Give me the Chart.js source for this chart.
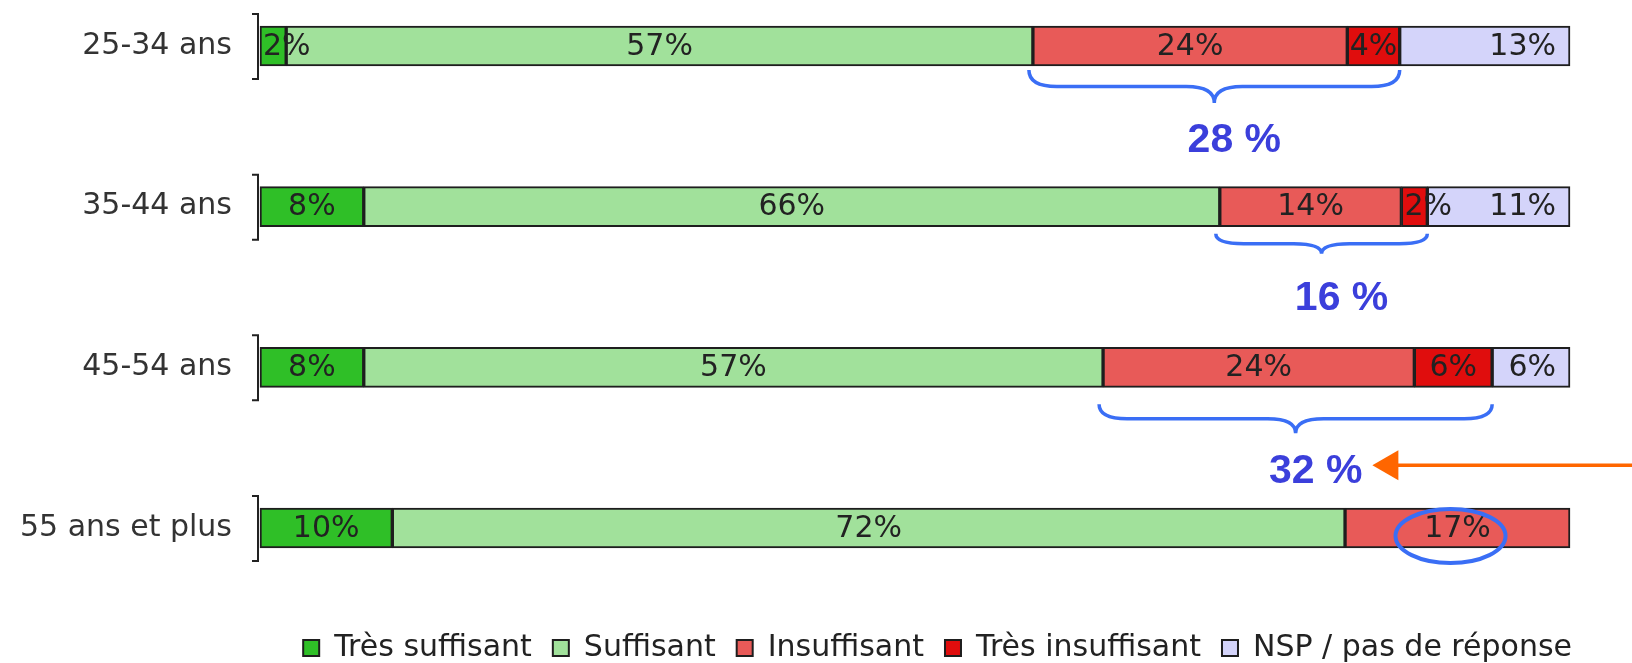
<!DOCTYPE html>
<html>
<head>
<meta charset="utf-8">
<title>Moyens par tranche d'âge</title>
<script src="https://cdn.jsdelivr.net/npm/chart.js@4.4.0/dist/chart.umd.min.js"></script>
<style>
  html, body { margin: 0; padding: 0; background: #fff; }
  #wrap { width: 1632px; height: 663px; }
</style>
</head>
<body>
<div id="wrap"><canvas id="grafica" width="1632" height="663"></canvas></div>
<script>
const tranches = ['25-34 ans', '35-44 ans', '45-54 ans', '55 ans et plus'];
const tresSuffisant = [2, 8, 8, 10];
const suffisant = [57, 66, 57, 72];
const insuffisant = [24, 14, 24, 17];
const tresInsuffisant = [4, 2, 6, null];
const nsp = [13, 11, 6, null];
// totaux écrits sous les accolades
const totauxAccolade = ['28 %', '16 %', '32 %', null];

const series = [tresSuffisant, suffisant, insuffisant, tresInsuffisant, nsp];
const noms = ['Très suffisant', 'Suffisant', 'Insuffisant', 'Très insuffisant', 'NSP / pas de réponse'];
const couleurs = ['#2fbf27', '#a1e19b', '#e85a58', '#e00d0d', '#d4d4fa'];

// chaque barre est ramenée à 100 % (les arrondis donnent 99 ou 101)
const totaux = tranches.map((t, j) => series.reduce((s, arr) => s + (arr[j] || 0), 0));
const parts = series.map(arr => arr.map((v, j) => v == null ? null : v / totaux[j] * 100));

const FONT = '"DejaVu Sans", Verdana, sans-serif';
const BLEU = '#3a6ef5';

// petit crochet de l'axe vertical autour de chaque barre
const crochets = {
  id: 'crochets',
  beforeDatasetsDraw(chart) {
    const { ctx, chartArea, scales: { y } } = chart;
    const x = chartArea.left - 2;
    ctx.save();
    ctx.strokeStyle = '#222';
    ctx.lineWidth = 2;
    tranches.forEach((t, j) => {
      const yc = y.getPixelForValue(j);
      ctx.beginPath();
      ctx.moveTo(x - 6, yc - 32);
      ctx.lineTo(x, yc - 32);
      ctx.lineTo(x, yc + 33);
      ctx.lineTo(x - 6, yc + 33);
      ctx.stroke();
    });
    ctx.restore();
  }
};

// valeurs écrites dans les segments
const etiquettes = {
  id: 'etiquettes',
  afterDatasetsDraw(chart) {
    const ctx = chart.ctx;
    ctx.save();
    ctx.font = '30px ' + FONT;
    ctx.fillStyle = '#222';
    ctx.textBaseline = 'middle';
    series.forEach((arr, i) => {
      chart.getDatasetMeta(i).data.forEach((bar, j) => {
        const v = arr[j];
        if (v == null) return;
        const txt = v + '%';
        const x0 = Math.min(bar.x, bar.base), x1 = Math.max(bar.x, bar.base);
        const w = ctx.measureText(txt).width;
        let x;
        if (w > x1 - x0 - 2) { x = x0 + 3; ctx.textAlign = 'left'; }
        else if (i === 4) { x = x1 - 14; ctx.textAlign = 'right'; }
        else { x = (x0 + x1) / 2; ctx.textAlign = 'center'; }
        ctx.fillText(txt, x, bar.y + 1);
      });
    });
    ctx.restore();
  }
};

// la légende est calée un peu plus à droite que la zone des barres
const decaleLegende = {
  id: 'decaleLegende',
  afterLayout(chart) {
    chart.legend.left += 23;
    chart.legend.right += 23;
  }
};

// accolades, totaux, flèche et cercle ajoutés à la main sur la capture
const annotations = {
  id: 'annotations',
  afterDraw(chart) {
    const { ctx, scales: { x, y } } = chart;
    const ecart = [4, 7, 17];
    const profondeur = [33, 20, 29];
    const decalTexte = [38, 45, 38];
    ctx.save();
    let fin32 = null;
    tranches.forEach((t, j) => {
      if (!totauxAccolade[j]) return;
      const avant = tresSuffisant[j] + suffisant[j];
      const apres = avant + insuffisant[j] + (tresInsuffisant[j] || 0);
      const xa = x.getPixelForValue(avant / totaux[j] * 100) - 4;
      const xb = x.getPixelForValue(apres / totaux[j] * 100);
      const xm = (xa + xb) / 2;
      const y0 = y.getPixelForValue(j) + 20 + ecart[j];
      const h = profondeur[j];
      const q = 28;
      ctx.strokeStyle = BLEU;
      ctx.lineWidth = 3.5;
      ctx.beginPath();
      ctx.moveTo(xa, y0);
      ctx.quadraticCurveTo(xa, y0 + h / 2, xa + q, y0 + h / 2);
      ctx.lineTo(xm - q, y0 + h / 2);
      ctx.quadraticCurveTo(xm, y0 + h / 2, xm, y0 + h);
      ctx.quadraticCurveTo(xm, y0 + h / 2, xm + q, y0 + h / 2);
      ctx.lineTo(xb - q, y0 + h / 2);
      ctx.quadraticCurveTo(xb, y0 + h / 2, xb, y0);
      ctx.stroke();

      ctx.font = 'bold 41px "Liberation Sans", Arial, sans-serif';
      ctx.fillStyle = '#3b3fdb';
      ctx.textAlign = 'center';
      ctx.textBaseline = 'middle';
      const tx = xm + 20, ty = y0 + h + decalTexte[j];
      ctx.fillText(totauxAccolade[j], tx, ty);
      if (j === 2) fin32 = { x: tx + ctx.measureText(totauxAccolade[j]).width / 2 + 10, y: ty - 6 };
    });

    // flèche orange venant du bord droit
    if (fin32) {
      ctx.strokeStyle = '#ff6600';
      ctx.fillStyle = '#ff6600';
      ctx.lineWidth = 3.5;
      ctx.beginPath();
      ctx.moveTo(chart.width, fin32.y);
      ctx.lineTo(fin32.x + 20, fin32.y);
      ctx.stroke();
      ctx.beginPath();
      ctx.moveTo(fin32.x, fin32.y);
      ctx.lineTo(fin32.x + 26, fin32.y - 15);
      ctx.lineTo(fin32.x + 26, fin32.y + 15);
      ctx.closePath();
      ctx.fill();
    }

    // ellipse autour du 17 % des 55 ans et plus
    const bar = chart.getDatasetMeta(2).data[3];
    const cx = (bar.x + bar.base) / 2 - 7;
    ctx.strokeStyle = BLEU;
    ctx.lineWidth = 4;
    ctx.beginPath();
    ctx.ellipse(cx, bar.y + 8, 55, 27, 0, 0, Math.PI * 2);
    ctx.stroke();
    ctx.restore();
  }
};

new Chart(document.getElementById('grafica'), {
  type: 'bar',
  data: {
    labels: tranches,
    datasets: series.map((arr, i) => ({
      label: noms[i],
      data: parts[i],
      backgroundColor: couleurs[i],
      borderColor: '#1e1e1e',
      borderWidth: 2,
      borderSkipped: false,
      barThickness: 40,
      clip: false
    }))
  },
  options: {
    indexAxis: 'y',
    responsive: false,
    animation: false,
    events: [],
    layout: { padding: { top: 42, right: 62, bottom: -10, left: 0 } },
    scales: {
      x: {
        stacked: true, min: 0, max: 100,
        grid: { display: false, drawTicks: false },
        border: { display: false },
        ticks: { display: false },
        afterFit(s) { s.height = 84; }
      },
      y: {
        stacked: true, offset: false,
        grid: { display: false, drawTicks: false },
        border: { display: false },
        ticks: { color: '#333', padding: 28, font: { family: FONT, size: 30 } },
        afterFit(s) { s.width = 260; }
      }
    },
    plugins: {
      tooltip: { enabled: false },
      legend: {
        position: 'bottom',
        align: 'end',
        labels: {
          color: '#222',
          boxWidth: 16,
          boxHeight: 16,
          padding: 21,
          font: { family: FONT, size: 30 }
        }
      }
    }
  },
  plugins: [crochets, etiquettes, decaleLegende, annotations]
});
</script>
</body>
</html>
